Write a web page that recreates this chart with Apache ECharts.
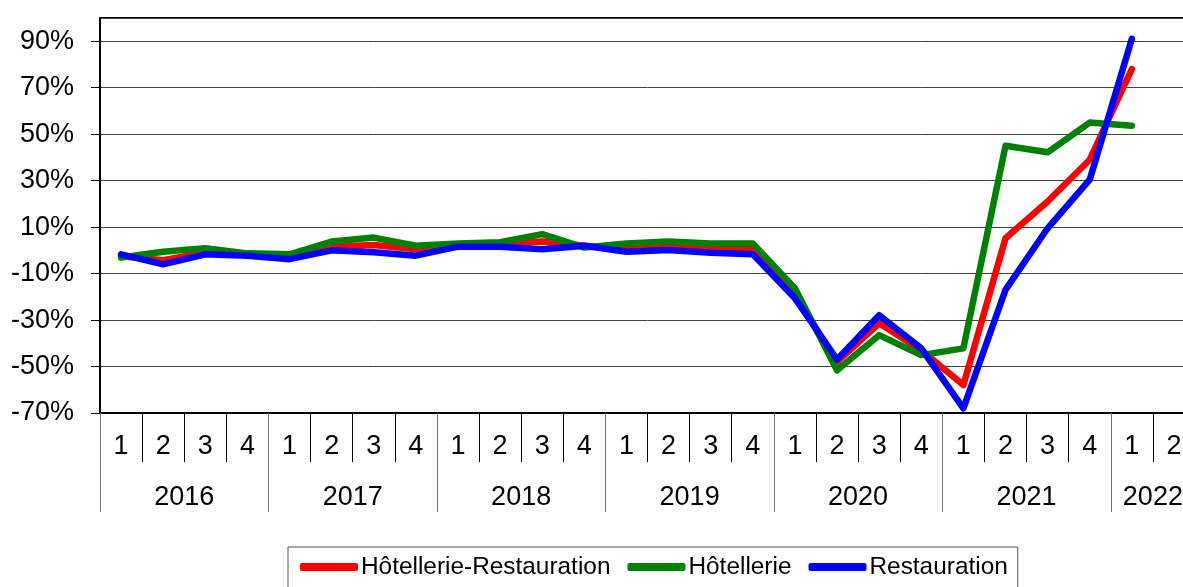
<!DOCTYPE html>
<html>
<head>
<meta charset="utf-8">
<script src="https://cdn.jsdelivr.net/npm/echarts@6/dist/echarts.min.js"></script>
<style>
  html, body { margin: 0; padding: 0; background: #fff; overflow: hidden; }
  #chart { width: 1195px; height: 587px; }
</style>
</head>
<body>
<div id="chart"></div>
<script>
// quarters 2016Q1 .. 2022Q2 (the plot runs past the right edge of the picture)
const quarters = ['1', '2', '3', '4', '1', '2', '3', '4', '1', '2', '3', '4', '1', '2', '3', '4', '1', '2', '3', '4', '1', '2', '3', '4', '1', '2']
const years = ['2016', '2017', '2018', '2019', '2020', '2021', '2022']
const yearStarts = [0, 4, 8, 12, 16, 20, 24]
const yearCenters = [2, 6, 10, 14, 18, 22, 25]

const hotelRestau = [-2.5, -4.2, -1, -2, -2.5, 1.5, 2.3, 0.5, 2, 2.5, 3.8, 2, 0.5, 1.5, 1, 0.6, -19, -48, -31.4, -43, -58, 5.2, 21, 39, 78, null]
const hotellerie = [-3.1, -0.6, 0.9, -1.3, -1.7, 3.8, 5.5, 2, 3, 3.5, 7, 1.2, 3, 3.8, 3, 3, -16.3, -51.6, -36.5, -45.1, -42.2, 45, 42.2, 55, 53.6, null]
const restauration = [-1.7, -6, -1.7, -2.3, -3.8, 0, -0.8, -2.3, 1.6, 1.6, 0.5, 2, -0.6, 0.2, -1, -1.7, -20.6, -47, -27.9, -42.2, -68, -17, 9.5, 30.4, 91, null]

const font = 'Liberation Sans, Arial, sans-serif'

function lineSeries(name, data, color) {
  return {
    name: name,
    type: 'line',
    data: data,
    color: color,
    showSymbol: false,
    symbol: 'none',
    lineStyle: { width: 6.5, color: color, cap: 'round', join: 'round' },
    animation: false
  }
}

const chart = echarts.init(document.getElementById('chart'))
chart.setOption({
  backgroundColor: '#fff',
  animation: false,
  grid: {
    left: 100,
    top: 18,
    right: 0,
    bottom: 174,
    show: true,
    borderColor: '#000',
    borderWidth: 2,
    backgroundColor: 'transparent'
  },
  legend: {
    left: 288,
    top: 547,
    padding: [8, 10, 30, 12],
    borderColor: '#555',
    borderWidth: 1,
    itemGap: 17,
    itemWidth: 58,
    itemHeight: 8,
    icon: 'roundRect',
    textStyle: { fontSize: 24.4, fontFamily: font, color: '#000', padding: [0, 0, 0, -2] },
    data: ['Hôtellerie-Restauration', 'Hôtellerie', 'Restauration']
  },
  xAxis: [{
    type: 'category',
    data: quarters,
    boundaryGap: true,
    axisLine: { onZero: false, lineStyle: { color: '#000', width: 2 } },
    axisTick: { show: true, interval: 0, length: 49, lineStyle: { color: '#000', width: 1 } },
    axisLabel: { interval: 0, margin: 20, fontSize: 27, fontFamily: font, color: '#000' }
  }, {
    type: 'value',
    min: 0,
    max: 26,
    position: 'bottom',
    axisLine: { show: false, onZero: false },
    splitLine: { show: false },
    axisTick: { show: true, customValues: yearStarts, length: 99, lineStyle: { color: '#777', width: 1 } },
    axisLabel: {
      customValues: yearCenters,
      margin: 71,
      fontSize: 27,
      fontFamily: font,
      color: '#000',
      formatter: function (v) { return years[yearCenters.indexOf(v)] }
    }
  }],
  yAxis: {
    type: 'value',
    min: -70,
    max: 100,
    interval: 20,
    axisLine: { show: true, lineStyle: { color: '#000', width: 2 } },
    axisTick: { show: true, length: 9, lineStyle: { color: '#000' } },
    axisLabel: {
      showMaxLabel: false,
      margin: 26,
      fontSize: 27,
      fontFamily: font,
      color: '#000',
      formatter: function (v) { return v + '%' }
    },
    splitLine: { lineStyle: { color: '#444', width: 1 } }
  },
  series: [
    lineSeries('Hôtellerie-Restauration', hotelRestau, '#ff0000'),
    lineSeries('Hôtellerie', hotellerie, '#008000'),
    lineSeries('Restauration', restauration, '#0000ff')
  ]
})
</script>
</body>
</html>
